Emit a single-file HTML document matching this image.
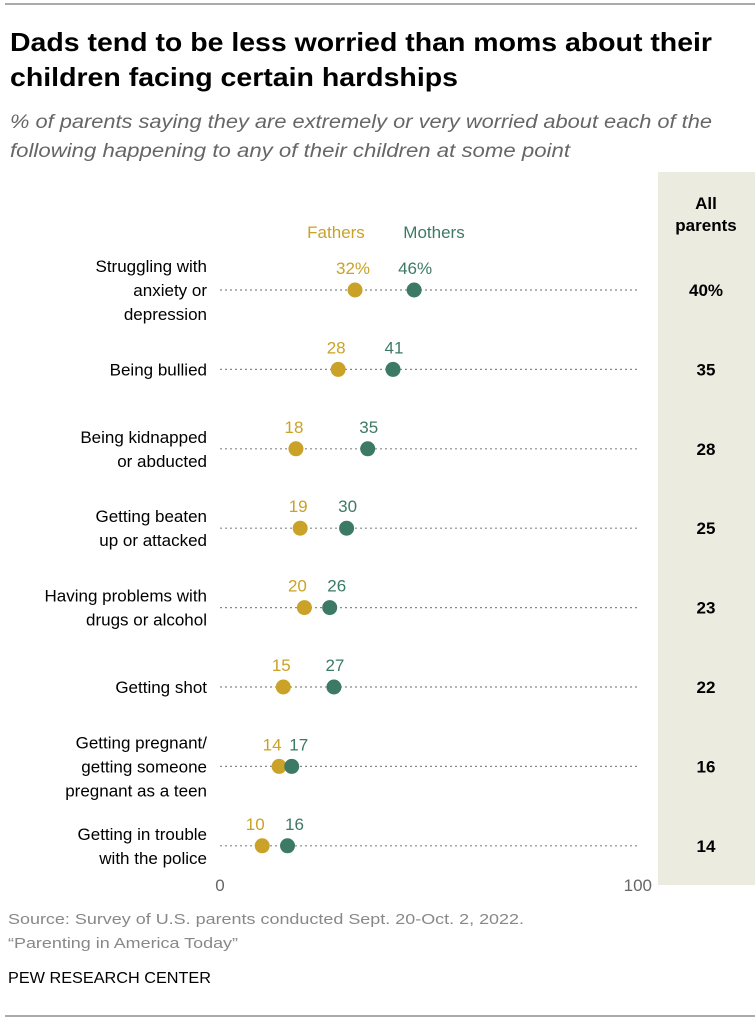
<!DOCTYPE html>
<html><head><meta charset="utf-8"><style>
html,body{margin:0;padding:0;background:#fff;}
svg{display:block;font-family:"Liberation Sans",sans-serif;}
</style></head><body>
<svg id="chart" width="755" height="1024" viewBox="0 0 755 1024">
<line x1="5" y1="4" x2="755" y2="4" stroke="#aaa" stroke-width="2"/>
<text x="10" y="51" font-size="26" font-weight="bold" fill="#000" textLength="702" lengthAdjust="spacingAndGlyphs">Dads tend to be less worried than moms about their</text>
<text x="10" y="86" font-size="26" font-weight="bold" fill="#000" textLength="448" lengthAdjust="spacingAndGlyphs">children facing certain hardships</text>
<text x="10" y="128" font-size="19" font-style="italic" fill="#666" textLength="702" lengthAdjust="spacingAndGlyphs">% of parents saying they are extremely or very worried about each of the</text>
<text x="10" y="157" font-size="19" font-style="italic" fill="#666" textLength="560" lengthAdjust="spacingAndGlyphs">following happening to any of their children at some point</text>
<rect x="658" y="172" width="97" height="713" fill="#ecebe0"/>
<text x="706" y="209" font-size="17" font-weight="bold" text-anchor="middle">All</text>
<text x="706" y="231" font-size="17" font-weight="bold" text-anchor="middle">parents</text>
<text x="336" y="238" font-size="17" fill="#c9a227" text-anchor="middle">Fathers</text>
<text x="434" y="238" font-size="17" fill="#3d7a65" text-anchor="middle">Mothers</text>
<g id="rows"></g>
<text x="220" y="891" font-size="17" fill="#666" text-anchor="middle">0</text>
<text x="652" y="891" font-size="17" fill="#666" text-anchor="end">100</text>
<text x="8" y="924" font-size="15" fill="#888" textLength="516" lengthAdjust="spacingAndGlyphs">Source: Survey of U.S. parents conducted Sept. 20-Oct. 2, 2022.</text>
<text x="8" y="948" font-size="15" fill="#888" textLength="230" lengthAdjust="spacingAndGlyphs">“Parenting in America Today”</text>
<text x="8" y="983" font-size="16" fill="#000" textLength="203" lengthAdjust="spacingAndGlyphs">PEW RESEARCH CENTER</text>
<line x1="5" y1="1016" x2="755" y2="1016" stroke="#aaa" stroke-width="2"/>
</svg>
<script>
const categories=[["Struggling with","anxiety or","depression"],["Being bullied"],["Being kidnapped","or abducted"],["Getting beaten","up or attacked"],["Having problems with","drugs or alcohol"],["Getting shot"],["Getting pregnant/","getting someone","pregnant as a teen"],["Getting in trouble","with the police"]];
const fathers=[32,28,18,19,20,15,14,10];
const mothers=[46,41,35,30,26,27,17,16];
const allParents=[40,35,28,25,23,22,16,14];
const NS="http://www.w3.org/2000/svg";
const g=document.getElementById('rows');
const xs=v=>220+v*4.22;
const ys=i=>290+i*79.4;
function mk(tag,attrs,txt){const e=document.createElementNS(NS,tag);for(const k in attrs)e.setAttribute(k,attrs[k]);if(txt!==undefined)e.textContent=txt;g.appendChild(e);return e;}
categories.forEach((lines,i)=>{
  const y=ys(i);
  const ln=mk('line',{x1:220,y1:y,x2:640,y2:y,stroke:'#888','stroke-width':1.2,'stroke-dasharray':'2,3'});
  
  
  const n=lines.length;
  lines.forEach((t,j)=>{
    const tx=mk('text',{x:207,y:y+6+(j-(n-1)/2)*24,'font-size':17,'text-anchor':'end',fill:'#000'},t);
    
    
  });
  const f=fathers[i],m=mothers[i];
  const close=(m-f)<10;
  const fl=mk('text',{x:xs(f)-(close?7:2),y:y-16,'font-size':17,fill:'#c9a227','text-anchor':'middle'},f+(i===0?'%':''));
  
  
  const ml=mk('text',{x:xs(m)+(close?7:1),y:y-16,'font-size':17,fill:'#3d7a65','text-anchor':'middle'},m+(i===0?'%':''));
  
  
  const fd=mk('circle',{cx:xs(f),cy:y,r:7.5,fill:'#c9a227'});
  
  
  const md=mk('circle',{cx:xs(m),cy:y,r:7.5,fill:'#3d7a65'});
  
  
  const al=mk('text',{x:706,y:y+6,'font-size':17,'font-weight':'bold','text-anchor':'middle',fill:'#000'},allParents[i]+(i===0?'%':''));
  
  
});
</script>
</body></html>
